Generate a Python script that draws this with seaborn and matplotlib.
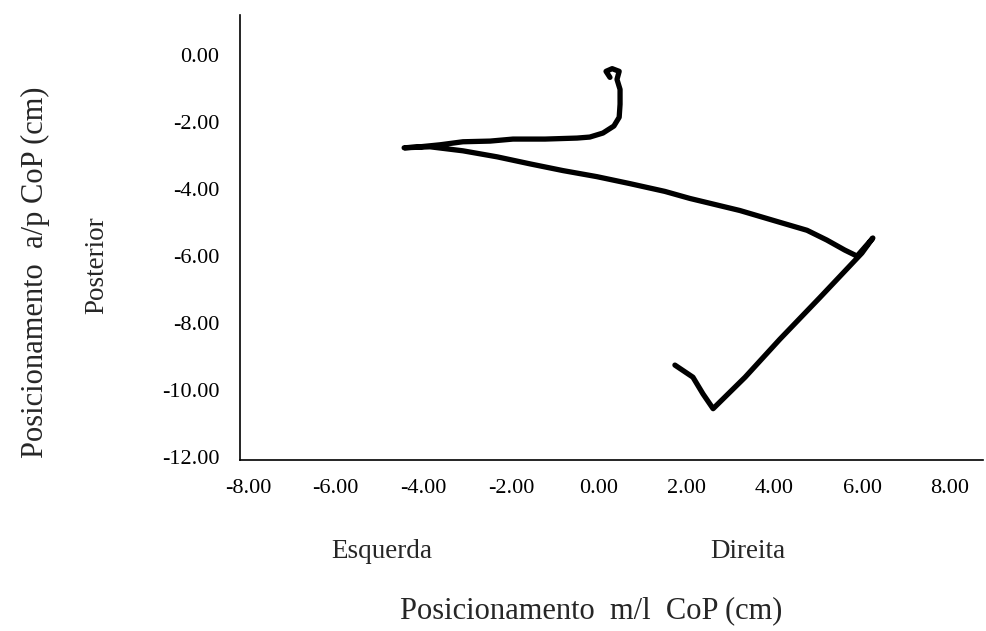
import matplotlib
matplotlib.use("Agg")
import matplotlib.pyplot as plt
import seaborn as sns
import pandas as pd

# Centre of pressure trajectory (cm), in drawing order
cop_ml = [0.25, 0.16, 0.30, 0.46, 0.41, 0.48, 0.48, 0.46, 0.34, 0.09, -0.21, -0.50,
          -1.23, -1.96, -2.48, -3.10, -3.62, -4.08, -4.44,
          -3.85, -3.10, -2.32, -1.57, -0.82, -0.05, 0.71, 1.50, 2.07, 3.21, 3.96,
          4.74, 5.19, 5.60, 5.88, 6.24, 5.99,
          5.03, 4.12, 3.33, 2.60, 2.37, 2.14, 1.73]
cop_ap = [-0.59, -0.41, -0.33, -0.41, -0.65, -0.95, -1.39, -1.78, -2.04, -2.25, -2.37, -2.40,
          -2.43, -2.43, -2.49, -2.51, -2.60, -2.66, -2.69,
          -2.66, -2.78, -2.96, -3.17, -3.37, -3.55, -3.76, -3.99, -4.20, -4.56, -4.85,
          -5.15, -5.44, -5.74, -5.92, -5.38, -5.83,
          -7.16, -8.40, -9.53, -10.47, -10.03, -9.53, -9.17]

x_ticks = [-8, -6, -4, -2, 0, 2, 4, 6, 8]
y_ticks = [0, -2, -4, -6, -8, -10, -12]

df = pd.DataFrame({"ml": cop_ml, "ap": cop_ap, "step": range(len(cop_ml))})

sns.set_style("white")
plt.rcParams["font.family"] = ["Liberation Serif", "DejaVu Serif"]

fig = plt.figure(figsize=(9.86, 6.31), dpi=100)
ax = fig.add_axes([240 / 986, 171 / 631, (983 - 240) / 986, (460 - 15) / 631])

sns.lineplot(data=df, x="ml", y="ap", sort=False, estimator=None, color="black",
             linewidth=3.8, ax=ax)
ax.lines[0].set_solid_capstyle("round")
ax.lines[0].set_solid_joinstyle("round")

ax.set_xlim(-8.18, 8.75)
ax.set_ylim(-11.94, 1.27)
ax.set_xticks(x_ticks)
ax.set_xticklabels([f"{v:.2f}" for v in x_ticks])
ax.set_yticks(y_ticks)
ax.set_yticklabels([f"{v:.2f}" for v in y_ticks])
ax.tick_params(axis="both", length=0, labelsize=16, colors="black")
ax.tick_params(axis="x", pad=14)
ax.tick_params(axis="y", pad=15)
for lab in ax.get_yticklabels():
    lab.set_verticalalignment("center")

for s in ["top", "right"]:
    ax.spines[s].set_visible(False)
for s in ["left", "bottom"]:
    ax.spines[s].set_color("black")
    ax.spines[s].set_linewidth(1.2)

ax.set_xlabel("")
ax.set_ylabel("")

fs_small = 19.5
fs_big = 22
fig.text(35 / 986, 1 - 272 / 631, "Posicionamento  a/p CoP (cm)", rotation=90,
         ha="center", va="center", fontsize=fs_big)
fig.text(97 / 986, 1 - 265 / 631, "Posterior", rotation=90,
         ha="center", va="center", fontsize=fs_small)
fig.text(382 / 986, 1 - 552 / 631, "Esquerda", ha="center", va="center", fontsize=fs_small)
fig.text(748 / 986, 1 - 552 / 631, "Direita", ha="center", va="center", fontsize=fs_small)
fig.text(591 / 986, 1 - 611 / 631, "Posicionamento  m/l  CoP (cm)", ha="center",
         va="center", fontsize=fs_big)

fig.savefig("out.png", dpi=100, facecolor="white")
